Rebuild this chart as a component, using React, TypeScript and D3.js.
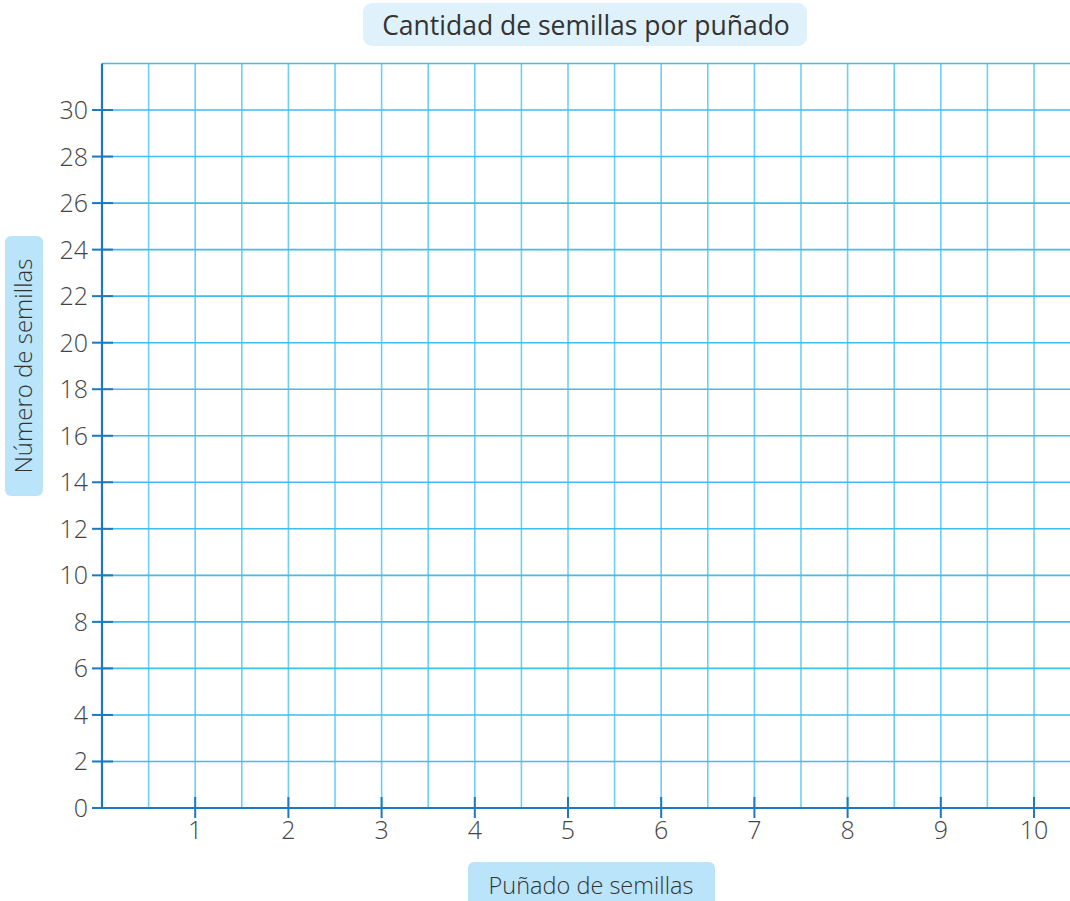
import React from "react";
import * as d3 from "d3";

const title = "Cantidad de semillas por puñado";
const xTitle = "Puñado de semillas";
const yTitle = "Número de semillas";
const xTicks = [1, 2, 3, 4, 5, 6, 7, 8, 9, 10];
const yTicks = [0, 2, 4, 6, 8, 10, 12, 14, 16, 18, 20, 22, 24, 26, 28, 30];
const xGrid = d3.range(0.5, 10.01, 0.5);
const yGrid = d3.range(2, 32.01, 2);

const W = 1070;
const H = 901;
const left = 102;
const bottom = 808;

export default function App() {
  const x = d3.scaleLinear().domain([0, 10]).range([left, 1034]);
  const y = d3.scaleLinear().domain([0, 32]).range([bottom, 63.5]);
  const font = "'Open Sans', 'Noto Sans', sans-serif";
  const gridV = "#6dd0f3";
  const gridH = "#3fbdec";
  const axis = "#1b79c0";
  const tickCol = "#444";
  return (
    <svg width={W} height={H} style={{ position: "absolute", left: 0, top: 0 }}>
      <rect x={0} y={0} width={W} height={H} fill="#fff" />
      {/* vertical grid */}
      {xGrid.map((v) => (
        <line key={"v" + v} x1={x(v)} x2={x(v)} y1={y(32)} y2={bottom} stroke={gridV} strokeWidth={1.6} />
      ))}
      {/* horizontal grid */}
      {yGrid.map((v) => (
        <line key={"h" + v} x1={left} x2={W} y1={y(v)} y2={y(v)} stroke={gridH} strokeWidth={1.6} />
      ))}
      {/* axes */}
      <line x1={left} x2={W} y1={bottom} y2={bottom} stroke={axis} strokeWidth={2.2} />
      <line x1={left} x2={left} y1={y(32)} y2={bottom + 1} stroke={axis} strokeWidth={2.2} />
      {/* y ticks */}
      {yTicks.map((v) => (
        <g key={"yt" + v}>
          <line x1={92} x2={113} y1={y(v)} y2={y(v)} stroke={axis} strokeWidth={2} />
          <text x={88} y={y(v)} dy="0.36em" textAnchor="end" fontFamily={font} fontSize={25} fill={tickCol} fontWeight={300}>
            {v}
          </text>
        </g>
      ))}
      {/* x ticks */}
      {xTicks.map((v) => (
        <g key={"xt" + v}>
          <line x1={x(v)} x2={x(v)} y1={797} y2={818} stroke={axis} strokeWidth={2} />
          <text x={x(v)} y={839} textAnchor="middle" fontFamily={font} fontSize={25} fill={tickCol} fontWeight={300}>
            {v}
          </text>
        </g>
      ))}
      {/* title */}
      <rect x={363} y={3} width={444} height={43} rx={9} fill="#dff1fb" />
      <text x={586} y={35} textAnchor="middle" fontFamily={font} fontSize={26.5} fill="#333">
        {title}
      </text>
      {/* y title */}
      <rect x={5} y={236} width={38} height={260} rx={6} fill="#bae4f9" />
      <text
        transform={`translate(32, 366) rotate(-90)`}
        textAnchor="middle"
        fontFamily={font}
        fontSize={24}
        fill="#333"
        fontWeight={300}
      >
        {yTitle}
      </text>
      {/* x title */}
      <rect x={468} y={862} width={247} height={50} rx={6} fill="#bae4f9" />
      <text x={591} y={894} textAnchor="middle" fontFamily={font} fontSize={23.5} fill="#333" fontWeight={300}>
        {xTitle}
      </text>
    </svg>
  );
}
